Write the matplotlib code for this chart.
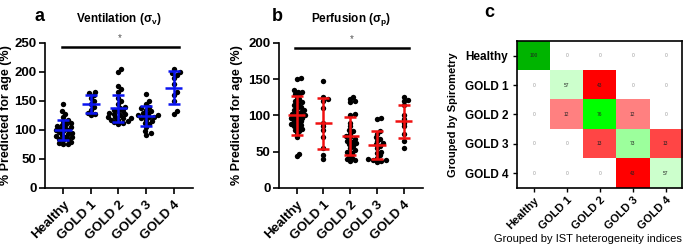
""" Ventilation / perfusion heterogeneity vs spirometry grouping """

import numpy as np
import matplotlib.pyplot as plt
from matplotlib.colors import to_rgb

plt.rcParams['font.family'] = ['Liberation Sans', 'DejaVu Sans']
plt.rcParams['font.weight'] = 'bold'
plt.rcParams['axes.labelweight'] = 'bold'
plt.rcParams['axes.titleweight'] = 'bold'

groups = ['Healthy', 'GOLD 1', 'GOLD 2', 'GOLD 3', 'GOLD 4']

## panel a: ventilation, % predicted for age
vent_healthy = [75, 76, 78, 80, 82, 84, 85, 87, 88, 90, 92, 93, 95, 96, 98, 100,
                100, 102, 104, 105, 107, 108, 110, 112, 115, 118, 122, 128, 132, 145]
vent_gold1 = [125, 127, 130, 135, 140, 145, 150, 155, 160, 163, 166]
vent_gold2 = [110, 112, 113, 115, 117, 118, 120, 120, 122, 123, 125, 127, 128, 130,
              132, 133, 135, 138, 140, 145, 150, 155, 165, 170, 175, 200, 205]
vent_gold3 = [92, 95, 98, 105, 110, 112, 115, 118, 120, 122, 123, 124, 125, 126,
              128, 130, 132, 135, 138, 140, 145, 150, 162]
vent_gold4 = [127, 132, 150, 160, 165, 180, 190, 195, 198, 200, 205]
vent_mean = [100, 145, 137, 124, 173]
vent_sd = [17, 15, 24, 17, 28]

## panel b: perfusion, % predicted for age
perf_healthy = [44, 47, 70, 75, 78, 80, 82, 84, 85, 87, 88, 90, 92, 93, 95, 96, 97,
                98, 100, 100, 102, 104, 105, 107, 108, 110, 112, 114, 116, 118, 120,
                122, 125, 128, 130, 132, 133, 135, 150, 152]
perf_gold1 = [40, 45, 55, 70, 80, 85, 90, 110, 120, 122, 125, 148]
perf_gold2 = [37, 38, 40, 42, 45, 48, 50, 52, 55, 58, 60, 62, 64, 65, 68, 70, 72,
              75, 78, 80, 85, 90, 100, 102, 118, 120, 123, 126]
perf_gold3 = [36, 37, 38, 39, 40, 42, 45, 48, 50, 55, 58, 60, 62, 65, 68, 70, 75,
              78, 95, 97]
perf_gold4 = [55, 65, 75, 85, 90, 95, 100, 115, 120, 121, 126]
perf_mean = [100, 89, 72, 59, 92]
perf_sd = [27, 35, 26, 19, 23]

## panel c: % of subjects, rows = spirometry group, cols = IST group
conf = [[100, 0, 0, 0, 0],
        [0, 57, 43, 0, 0],
        [0, 12, 76, 12, 0],
        [0, 0, 13, 73, 13],
        [0, 0, 0, 43, 57]]

diag_colors = {100: '#00b400', 76: '#00ff00', 73: '#9cff9c', 57: '#ccffcc'}
off_colors = {43: '#ff0000', 13: '#ff4545', 12: '#ff8080'}


def swarm_offsets(values, px_per_y, px_per_x, diam=3.6, step=1.5):
    """ simple beeswarm: place each point as close to centre as possible """
    order = np.argsort(values)
    placed = []
    offs = np.zeros(len(values))
    for i in order:
        y = values[i] * px_per_y
        k = 0
        while True:
            cand = ((k + 1) // 2) * step * (1 if k % 2 else -1)
            if all((cand - px) ** 2 + (y - py) ** 2 >= diam ** 2 for px, py in placed):
                break
            k += 1
        placed.append((cand, y))
        offs[i] = cand / px_per_x
    return offs


def bold_ticks(ax):
    for lbl in ax.get_xticklabels() + ax.get_yticklabels():
        lbl.set_fontweight('bold')


def dot_panel(ax, data, means, sds, color, ymax, ystep, sig_y, title, letter,
              lx, ylab_x):
    ax.set_xlim(-0.66, 4.7)
    ax.set_ylim(0, ymax)
    px_per_y = 145.0 / ymax
    for i, vals in enumerate(data):
        vals = np.array(vals, dtype=float)
        offs = swarm_offsets(vals, px_per_y, 27.0)
        ax.scatter(i + offs, vals, s=15, color='black', zorder=2, linewidths=0)
        ax.errorbar(i, means[i], yerr=sds[i], color=color, lw=1.8, capsize=4,
                    capthick=1.8, zorder=3)
        ax.hlines(means[i], i - 0.32, i + 0.32, color=color, lw=1.8, zorder=3)
    ax.plot([-0.05, 4.2], [sig_y, sig_y], color='black', lw=1.8, clip_on=False)
    ax.text(2.05, sig_y + ymax * 0.03, '*', ha='center', va='bottom',
            fontsize=7, color='#555555', fontweight='normal')
    ax.set_xticks(range(len(groups)))
    ax.set_xticklabels(groups, rotation=45, ha='right', rotation_mode='anchor',
                       fontsize=9.5)
    ax.set_yticks(np.arange(0, ymax + 1, ystep))
    ax.tick_params(axis='y', labelsize=9.5, width=1.2, length=4, pad=2)
    ax.tick_params(axis='x', width=1.2, length=4)
    bold_ticks(ax)
    ax.set_ylabel('% Predicted for age (%)', fontsize=9, fontweight='bold')
    ax.yaxis.set_label_coords(ylab_x, 0.5)
    ax.spines['top'].set_visible(False)
    ax.spines['right'].set_visible(False)
    ax.spines['left'].set_linewidth(1.2)
    ax.spines['bottom'].set_linewidth(1.2)
    ax.set_title(title, fontsize=8.5, pad=15, fontweight='bold')
    ax.text(lx, 1.18, letter, transform=ax.transAxes, fontsize=13,
            fontweight='bold', va='center')


fig = plt.figure(figsize=(6.85, 2.48), dpi=100)

ax_a = fig.add_axes([0.0657, 0.242, 0.216, 0.585])
dot_panel(ax_a, [vent_healthy, vent_gold1, vent_gold2, vent_gold3, vent_gold4],
          vent_mean, vent_sd, '#0a14f0', 250, 50, 243,
          'Ventilation (σ$_\\mathregular{v}$)', 'a', -0.07, -0.22)

ax_b = fig.add_axes([0.407, 0.242, 0.21, 0.585])
dot_panel(ax_b, [perf_healthy, perf_gold1, perf_gold2, perf_gold3, perf_gold4],
          perf_mean, perf_sd, '#f01010', 200, 50, 193,
          'Perfusion (σ$_\\mathregular{p}$)', 'b', -0.05, -0.25)

## heatmap
ax_c = fig.add_axes([0.755, 0.242, 0.241, 0.593])
n = len(groups)
rgb = np.ones((n, n, 3))
for r in range(n):
    for c in range(n):
        v = conf[r][c]
        if v == 0:
            continue
        col = diag_colors[v] if r == c else off_colors[v]
        rgb[r, c] = to_rgb(col)
ax_c.imshow(rgb, aspect='auto', interpolation='nearest')
for r in range(n):
    for c in range(n):
        v = conf[r][c]
        ax_c.text(c, r, str(v), ha='center', va='center', fontsize=3.5,
                  fontweight='normal', color='#999999' if v == 0 else '#222222')
ax_c.set_xticks(range(n))
ax_c.set_xticklabels(groups, rotation=45, ha='right', rotation_mode='anchor',
                     fontsize=8)
ax_c.set_yticks(range(n))
ax_c.set_yticklabels(groups, fontsize=8.5)
bold_ticks(ax_c)
ax_c.tick_params(width=1.0, length=3)
ax_c.tick_params(axis='x', pad=2)
for s in ax_c.spines.values():
    s.set_linewidth(1.2)
ax_c.set_ylabel('Grouped by Spirometry', fontsize=8, fontweight='bold')
ax_c.set_xlabel('Grouped by IST heterogeneity indices', fontsize=8,
                fontweight='normal')
ax_c.xaxis.set_label_coords(0.43, -0.31)
ax_c.yaxis.set_label_coords(-0.36, 0.5)
ax_c.text(-0.2, 1.19, 'c', transform=ax_c.transAxes, fontsize=13,
          fontweight='bold', va='center')

fig.savefig('out.png', dpi=100)
